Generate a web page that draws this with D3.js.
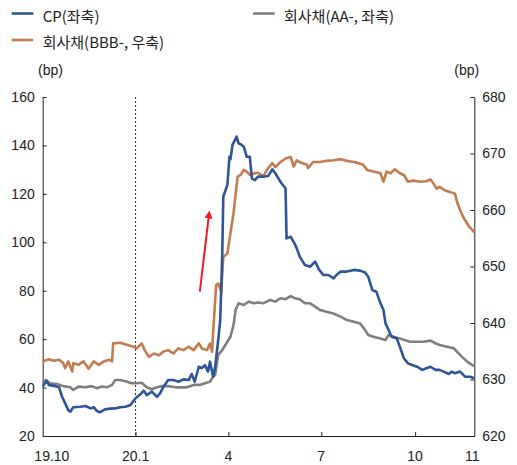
<!DOCTYPE html>
<html>
<head>
<meta charset="utf-8">
<script src="https://cdn.jsdelivr.net/npm/d3@7"></script>
<style>
  html, body { margin: 0; padding: 0; background: #ffffff; }
  svg { display: block; }
</style>
</head>
<body>
<svg id="chart" width="517" height="465"></svg>
<script>
// ---------------- DATA ----------------
const seriesNames = ["CP(좌축)", "회사채(AA-, 좌축)", "회사채(BBB-, 우축)"];

const cpDates = ["2019-10-02","2019-10-06","2019-10-08","2019-10-14","2019-10-18","2019-10-21","2019-10-24","2019-10-27","2019-10-29","2019-11-01","2019-11-08","2019-11-13","2019-11-18","2019-11-21","2019-11-24","2019-11-27","2019-12-02","2019-12-07","2019-12-12","2019-12-17","2019-12-22","2019-12-27","2020-01-01","2020-01-06","2020-01-09","2020-01-12","2020-01-17","2020-01-22","2020-01-25","2020-01-28","2020-02-02","2020-02-07","2020-02-12","2020-02-17","2020-02-22","2020-02-25","2020-02-28","2020-03-03","2020-03-06","2020-03-09","2020-03-12","2020-03-14","2020-03-17","2020-03-19","2020-03-22","2020-03-24","2020-03-26","2020-03-27","2020-03-31","2020-04-02","2020-04-03","2020-04-05","2020-04-09","2020-04-11","2020-04-14","2020-04-16","2020-04-19","2020-04-22","2020-04-24","2020-04-27","2020-04-30","2020-05-05","2020-05-10","2020-05-14","2020-05-17","2020-05-20","2020-05-23","2020-05-27","2020-05-28","2020-06-01","2020-06-04","2020-06-07","2020-06-10","2020-06-15","2020-06-20","2020-06-25","2020-06-29","2020-07-03","2020-07-08","2020-07-13","2020-07-16","2020-07-20","2020-07-26","2020-08-02","2020-08-08","2020-08-13","2020-08-16","2020-08-20","2020-08-24","2020-08-28","2020-08-31","2020-09-02","2020-09-05","2020-09-08","2020-09-13","2020-09-16","2020-09-20","2020-09-24","2020-09-28","2020-10-03","2020-10-08","2020-10-12","2020-10-16","2020-10-21","2020-10-25","2020-10-29","2020-11-03","2020-11-06","2020-11-09","2020-11-14","2020-11-19","2020-11-24","2020-11-28"];
const cpValues = [40.4,42.8,41.1,40.6,40.1,36.2,33.5,30.7,30.0,31.9,32.1,32.4,31.4,31.9,30.4,29.8,31.0,31.3,31.4,31.9,32.1,32.8,35.6,37.3,38.7,36.9,38.3,36.2,37.6,40.1,43.1,43.1,42.4,43.4,43.1,45.6,42.4,48.6,48.0,49.3,46.6,50.7,44.5,48.6,59.6,67.9,95.4,118.8,123.7,135.3,134.3,140.2,143.6,140.9,140.2,139.5,135.3,135.3,126.4,125.7,127.1,127.1,127.4,130.1,128.5,126.4,124.4,122.3,101.6,102.3,100.2,97.5,94.0,90.6,89.9,92.0,88.6,86.5,86.5,85.1,86.5,87.9,87.9,88.6,88.3,87.5,85.8,80.3,79.6,74.8,72.0,66.5,63.8,61.0,60.3,56.9,52.1,50.0,49.3,48.6,47.3,48.0,48.6,47.3,47.3,46.6,45.6,46.6,45.9,46.6,44.5,44.5,43.8];

const aaDates = ["2019-10-02","2019-10-05","2019-10-09","2019-10-16","2019-10-22","2019-10-29","2019-11-01","2019-11-06","2019-11-13","2019-11-19","2019-11-24","2019-11-29","2019-12-04","2019-12-09","2019-12-12","2019-12-17","2019-12-24","2019-12-28","2020-01-02","2020-01-07","2020-01-12","2020-01-17","2020-01-22","2020-01-27","2020-02-02","2020-02-09","2020-02-15","2020-02-20","2020-02-27","2020-03-04","2020-03-09","2020-03-14","2020-03-17","2020-03-19","2020-03-22","2020-03-26","2020-03-31","2020-04-03","2020-04-06","2020-04-08","2020-04-11","2020-04-16","2020-04-21","2020-04-26","2020-04-30","2020-05-05","2020-05-12","2020-05-17","2020-05-22","2020-05-27","2020-06-01","2020-06-05","2020-06-10","2020-06-15","2020-06-20","2020-06-25","2020-06-30","2020-07-06","2020-07-13","2020-07-20","2020-07-26","2020-08-02","2020-08-08","2020-08-13","2020-08-16","2020-08-21","2020-08-28","2020-09-02","2020-09-05","2020-09-10","2020-09-16","2020-09-21","2020-09-26","2020-10-03","2020-10-09","2020-10-16","2020-10-21","2020-10-25","2020-11-01","2020-11-08","2020-11-11","2020-11-16","2020-11-21","2020-11-26","2020-11-28"];
const aaValues = [41.8,43.1,41.8,41.5,40.6,40.1,39.0,40.4,40.1,40.6,39.7,40.4,40.1,41.1,43.1,43.1,42.4,41.8,41.8,42.0,40.1,39.3,40.1,40.6,40.6,40.1,40.1,40.1,41.1,41.1,41.8,42.4,44.5,45.2,53.5,55.5,58.9,61.0,65.8,72.0,74.8,74.1,75.5,74.8,75.1,74.8,76.2,75.5,76.9,76.5,77.8,76.9,76.5,74.8,74.8,73.4,72.0,71.3,70.6,69.3,67.9,67.2,66.5,63.8,61.7,61.0,60.3,59.6,61.7,61.0,60.3,59.6,58.9,58.9,58.9,59.4,58.3,57.6,56.9,56.2,54.8,52.7,50.7,49.3,48.9];

const bbbDates = ["2019-10-02","2019-10-08","2019-10-13","2019-10-18","2019-10-22","2019-10-24","2019-10-27","2019-10-31","2019-11-01","2019-11-06","2019-11-11","2019-11-16","2019-11-21","2019-11-26","2019-12-01","2019-12-06","2019-12-09","2019-12-10","2019-12-17","2019-12-24","2019-12-30","2020-01-02","2020-01-07","2020-01-10","2020-01-14","2020-01-19","2020-01-24","2020-01-28","2020-02-02","2020-02-07","2020-02-12","2020-02-17","2020-02-22","2020-02-27","2020-03-03","2020-03-06","2020-03-11","2020-03-14","2020-03-16","2020-03-17","2020-03-20","2020-03-22","2020-03-25","2020-03-27","2020-03-31","2020-04-03","2020-04-06","2020-04-10","2020-04-13","2020-04-16","2020-04-19","2020-04-22","2020-04-27","2020-04-30","2020-05-05","2020-05-10","2020-05-14","2020-05-17","2020-05-22","2020-05-27","2020-06-01","2020-06-04","2020-06-07","2020-06-12","2020-06-17","2020-06-18","2020-06-23","2020-06-30","2020-07-06","2020-07-13","2020-07-20","2020-07-26","2020-08-02","2020-08-06","2020-08-11","2020-08-15","2020-08-21","2020-08-28","2020-08-31","2020-09-03","2020-09-07","2020-09-11","2020-09-16","2020-09-20","2020-09-24","2020-09-29","2020-10-06","2020-10-12","2020-10-16","2020-10-19","2020-10-22","2020-10-25","2020-10-30","2020-11-04","2020-11-09","2020-11-11","2020-11-14","2020-11-17","2020-11-22","2020-11-26","2020-11-28"];
const bbbValues = [633.2,633.6,633.3,633.5,632.9,632.0,633.2,631.4,632.9,632.6,633.2,631.9,633.2,632.6,633.2,633.5,633.2,636.4,636.5,636.1,635.8,635.5,636.4,635.2,634.0,634.6,634.3,634.9,635.2,634.6,635.5,635.2,635.8,635.2,636.4,635.5,635.2,636.4,634.9,638.2,646.7,647.0,645.5,651.7,652.3,655.9,659.4,665.9,666.2,667.1,666.8,666.2,666.5,666.6,666.0,667.4,668.3,667.6,668.5,669.1,669.4,667.7,668.8,668.3,668.0,667.4,668.5,668.5,668.7,668.8,669.0,668.7,668.5,668.3,668.0,667.1,666.8,666.5,665.0,666.8,666.5,667.2,666.5,666.2,665.0,665.2,665.0,665.1,665.4,664.7,663.8,664.1,663.5,663.2,662.9,661.5,660.0,658.8,657.3,656.5,656.0];

const leftTicks = [20, 40, 60, 80, 100, 120, 140, 160];
const rightTicks = [620, 630, 640, 650, 660, 670, 680];
const xTickDates = ["2020-01-01", "2020-04-01", "2020-07-01", "2020-10-01"];
const xLabelDates = ["2019-10-11", "2020-01-01", "2020-04-01", "2020-07-01", "2020-10-01", "2020-11-26"];
const xLabels = ["19.10", "20.1", "4", "7", "10", "11"];
const xDomain = ["2019-10-02", "2020-11-28"];
const markerDate = "2020-01-01";
const arrowFrom = ["2020-03-04", 79.6];
const arrowTo = ["2020-03-13", 111.5];
const unitLabel = "(bp)";

// ---------------- DRAW ----------------
const parse = d3.utcParse("%Y-%m-%d");
const svg = d3.select("#chart");
const colors = { cp: "#2E5597", aa: "#7F7F7F", bbb: "#C47B50" };
const tickFont = "'Liberation Sans', Arial, sans-serif";
const korFont = "'Noto Sans CJK KR', 'Noto Sans', sans-serif";

const x = d3.scaleUtc().domain(xDomain.map(parse)).range([42.7, 474.3]);
const yL = d3.scaleLinear().domain([20, 160]).range([436, 97]);
const yR = d3.scaleLinear().domain([620, 680]).range([436, 97]);

// dotted marker line
svg.append("line")
  .attr("x1", x(parse(markerDate))).attr("x2", x(parse(markerDate)))
  .attr("y1", yL(160)).attr("y2", yL(20))
  .attr("stroke", "#333").attr("stroke-width", 1).attr("stroke-dasharray", "2,2");

// axes
const gL = svg.append("g").attr("transform", `translate(${x.range()[0]},0)`)
  .call(d3.axisLeft(yL).tickValues(leftTicks).tickSizeInner(-4).tickSizeOuter(0).tickPadding(8));
const gR = svg.append("g").attr("transform", `translate(${x.range()[1]},0)`)
  .call(d3.axisRight(yR).tickValues(rightTicks).tickSizeInner(-4).tickSizeOuter(0).tickPadding(8));
const gB = svg.append("g").attr("transform", `translate(0,${yL(20)})`)
  .call(d3.axisBottom(x).tickValues(xTickDates.map(parse)).tickSizeInner(-4).tickSizeOuter(0).tickFormat(""));

[gL, gR, gB].forEach(g => {
  g.selectAll("path.domain").attr("stroke", "#222").attr("stroke-width", 1);
  g.selectAll(".tick line").attr("stroke", "#222").attr("stroke-width", 1);
  g.selectAll(".tick text").attr("font-family", tickFont).attr("font-size", 14).attr("fill", "#222");
});

// x labels
svg.append("g").selectAll("text").data(xLabelDates).join("text")
  .attr("x", d => x(parse(d)))
  .attr("y", 461)
  .attr("text-anchor", "middle")
  .attr("font-family", tickFont).attr("font-size", 14).attr("fill", "#222")
  .text((d, i) => xLabels[i]);

// unit labels
svg.append("text").attr("x", 50.5).attr("y", 75).attr("text-anchor", "middle")
  .attr("font-family", tickFont).attr("font-size", 14).attr("fill", "#222").text(unitLabel);
svg.append("text").attr("x", 466.7).attr("y", 75).attr("text-anchor", "middle")
  .attr("font-family", tickFont).attr("font-size", 14).attr("fill", "#222").text(unitLabel);

// lines
const mk = (dates, vals) => dates.map((d, i) => ({ d: parse(d), v: vals[i] }));
const lineL = d3.line().x(p => x(p.d)).y(p => yL(p.v));
const lineR = d3.line().x(p => x(p.d)).y(p => yR(p.v));

svg.append("path").datum(mk(bbbDates, bbbValues)).attr("d", lineR)
  .attr("fill", "none").attr("stroke", colors.bbb).attr("stroke-width", 2.6).attr("stroke-linejoin", "round");
svg.append("path").datum(mk(aaDates, aaValues)).attr("d", lineL)
  .attr("fill", "none").attr("stroke", colors.aa).attr("stroke-width", 2.6).attr("stroke-linejoin", "round");
svg.append("path").datum(mk(cpDates, cpValues)).attr("d", lineL)
  .attr("fill", "none").attr("stroke", colors.cp).attr("stroke-width", 2.6).attr("stroke-linejoin", "round");

// red arrow
const defs = svg.append("defs");
defs.append("marker").attr("id", "arrowhead")
  .attr("viewBox", "0 0 10 10").attr("refX", 5).attr("refY", 5)
  .attr("markerWidth", 4).attr("markerHeight", 4).attr("orient", "auto")
  .append("path").attr("d", "M0,0 L10,5 L0,10 z").attr("fill", "#EE1C25");
svg.append("line")
  .attr("x1", x(parse(arrowFrom[0]))).attr("y1", yL(arrowFrom[1]))
  .attr("x2", x(parse(arrowTo[0]))).attr("y2", yL(arrowTo[1]))
  .attr("stroke", "#EE1C25").attr("stroke-width", 2).attr("marker-end", "url(#arrowhead)");

// legend
const legendItems = [
  { name: seriesNames[0], color: colors.cp, lx: 11.7, ly: 13.5 },
  { name: seriesNames[1], color: colors.aa, lx: 253, ly: 13.5 },
  { name: seriesNames[2], color: colors.bbb, lx: 11.7, ly: 40 }
];
const lg = svg.append("g").selectAll("g").data(legendItems).join("g");
lg.append("line")
  .attr("x1", d => d.lx).attr("x2", d => d.lx + 21.6)
  .attr("y1", d => d.ly).attr("y2", d => d.ly)
  .attr("stroke", d => d.color).attr("stroke-width", 2.6);
lg.append("text")
  .attr("x", d => d.lx + 31).attr("y", d => d.ly + 1.5)
  .attr("dominant-baseline", "central")
  .attr("font-family", korFont).attr("font-size", 15).attr("fill", "#222")
  .text(d => d.name);
</script>
</body>
</html>
